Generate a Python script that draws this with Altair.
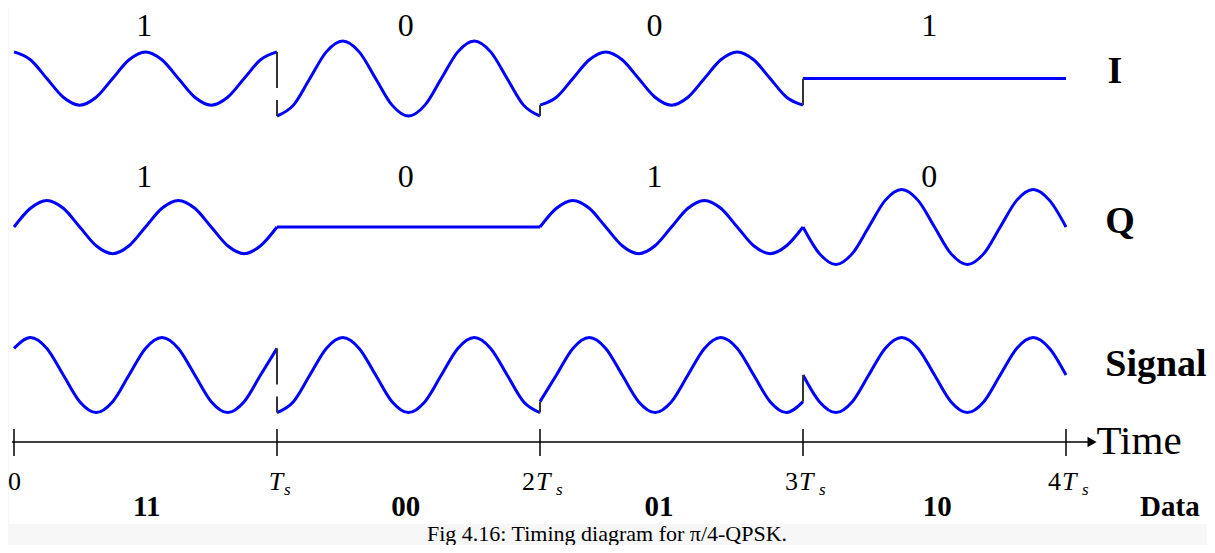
import altair as alt
import pandas as pd

# ---------------- data ----------------
# sample positions inside one symbol interval (units of Ts)
STEP = [0.0, 0.0625, 0.125, 0.1875, 0.25, 0.3125, 0.375, 0.4375, 0.5,
        0.5625, 0.625, 0.6875, 0.75, 0.8125, 0.875, 0.9375, 1.0]

# waveform samples per symbol (full amplitude = 1)
I_SEG = [
    [0.71, 0.5, 0, -0.5, -0.71, -0.5, 0, 0.5, 0.71, 0.5, 0, -0.5, -0.71, -0.5, 0, 0.5, 0.71],
    [-1, -0.71, 0, 0.71, 1, 0.71, 0, -0.71, -1, -0.71, 0, 0.71, 1, 0.71, 0, -0.71, -1],
    [-0.71, -0.5, 0, 0.5, 0.71, 0.5, 0, -0.5, -0.71, -0.5, 0, 0.5, 0.71, 0.5, 0, -0.5, -0.71],
    [0, 0, 0, 0, 0, 0, 0, 0, 0, 0, 0, 0, 0, 0, 0, 0, 0],
]
Q_SEG = [
    [0, 0.5, 0.71, 0.5, 0, -0.5, -0.71, -0.5, 0, 0.5, 0.71, 0.5, 0, -0.5, -0.71, -0.5, 0],
    [0, 0, 0, 0, 0, 0, 0, 0, 0, 0, 0, 0, 0, 0, 0, 0, 0],
    [0, 0.5, 0.71, 0.5, 0, -0.5, -0.71, -0.5, 0, 0.5, 0.71, 0.5, 0, -0.5, -0.71, -0.5, 0],
    [0, -0.71, -1, -0.71, 0, 0.71, 1, 0.71, 0, -0.71, -1, -0.71, 0, 0.71, 1, 0.71, 0],
]
S_SEG = [
    [0.71, 1, 0.71, 0, -0.71, -1, -0.71, 0, 0.71, 1, 0.71, 0, -0.71, -1, -0.71, 0, 0.71],
    [-1, -0.71, 0, 0.71, 1, 0.71, 0, -0.71, -1, -0.71, 0, 0.71, 1, 0.71, 0, -0.71, -1],
    [-0.71, 0, 0.71, 1, 0.71, 0, -0.71, -1, -0.71, 0, 0.71, 1, 0.71, 0, -0.71, -1, -0.71],
    [0, -0.71, -1, -0.71, 0, 0.71, 1, 0.71, 0, -0.71, -1, -0.71, 0, 0.71, 1, 0.71, 0],
]

I_BITS = ["1", "0", "0", "1"]
Q_BITS = ["1", "0", "1", "0"]
DATA_BITS = ["11", "00", "01", "10"]
ROW_NAMES = ["I", "Q", "Signal"]
TICKS = [0, 1, 2, 3, 4]
TICK_COEF = ["0", "", "2", "3", "4"]
CAPTION = "Fig 4.16: Timing diagram for π/4-QPSK."

# ---------------- layout (not data) ----------------
W, H = 1199, 537
X_DOM = [-0.0228, 4.5361]
Y_DOM = [-12.44, 1.88]
ROW_Y = {"I": 0.0, "Q": -3.96, "Signal": -7.907}
AXIS_Y = -9.693
SERIF = "Liberation Serif"
BLUE = "#0000ff"

waves = {"I": I_SEG, "Q": Q_SEG, "Signal": S_SEG}
rows, jumps = [], []
for name, segs in waves.items():
    for k, seg in enumerate(segs):
        for s, v in zip(STEP, seg):
            rows.append({"wave": name, "key": f"{name}{k}", "t": k + s,
                         "y": v + ROW_Y[name]})
        if k > 0 and segs[k - 1][-1] != seg[0]:
            jumps.append({"t": k, "y1": segs[k - 1][-1] + ROW_Y[name],
                          "y2": seg[0] + ROW_Y[name], "dashed": k == 1})
wave_df = pd.DataFrame(rows)
jump_df = pd.DataFrame(jumps)

xs = alt.Scale(domain=X_DOM, nice=False, zero=False)
ys = alt.Scale(domain=Y_DOM, nice=False, zero=False)
X = lambda f: alt.X(f, type="quantitative", scale=xs, axis=None)
Y = lambda f: alt.Y(f, type="quantitative", scale=ys, axis=None)

bg = alt.Chart(pd.DataFrame({"a": [0]})).mark_rect(color="white").encode(
    x=alt.value(1), x2=alt.value(W), y=alt.value(0), y2=alt.value(516))

lines = alt.Chart(wave_df).mark_line(color=BLUE, strokeWidth=3,
                                     interpolate="monotone").encode(
    x=X("t"), y=Y("y"), detail="key:N", order="t:Q")

jump_solid = alt.Chart(jump_df[~jump_df.dashed]).mark_rule(
    color="#333333", strokeWidth=2).encode(x=X("t"), y=Y("y1"), y2="y2")
jump_dash = alt.Chart(jump_df[jump_df.dashed]).mark_rule(
    color="#333333", strokeWidth=2, strokeDash=[36, 12]).encode(
    x=X("t"), y=Y("y1"), y2="y2")

# bit labels above I and Q
bit_rows = []
nudge = [-0.005, -0.01, -0.065, -0.02]
for k in range(4):
    bit_rows.append({"t": k + 0.5 + nudge[k], "y": 1.40, "txt": I_BITS[k]})
    bit_rows.append({"t": k + 0.5 + nudge[k], "y": -2.627, "txt": Q_BITS[k]})
bits = alt.Chart(pd.DataFrame(bit_rows)).mark_text(
    font=SERIF, fontSize=32, baseline="middle", align="center").encode(
    x=X("t"), y=Y("y"), text="txt:N")

row_df = pd.DataFrame({"txt": ROW_NAMES, "t": [4.186, 4.205, 4.342],
                       "y": [0.173, -3.827, -7.64]})
row_lbl = alt.Chart(row_df).mark_text(
    font=SERIF, fontSize=38, fontWeight="bold", baseline="middle",
    align="center").encode(x=X("t"), y=Y("y"), text="txt:N")

# time axis
axis_line = alt.Chart(pd.DataFrame({"a": [-0.0076], "b": [4.09], "y": [AXIS_Y]})).mark_rule(
    color="black", strokeWidth=1.5).encode(x=X("a"), x2="b", y=Y("y"))
tick_df = pd.DataFrame({"t": TICKS, "coef": TICK_COEF})
ticks = alt.Chart(tick_df).mark_rule(color="black", strokeWidth=1.5).encode(
    x=X("t"), y=alt.Y("lo:Q", scale=ys, axis=None), y2="hi:Q"
).transform_calculate(lo=str(AXIS_Y + 0.347), hi=str(AXIS_Y - 0.373))
arrow = alt.Chart(pd.DataFrame({"t": [4.099], "y": [AXIS_Y]})).mark_point(
    shape="triangle-right", filled=True, color="black", opacity=1, size=110).encode(
    x=X("t"), y=Y("y"))
time_lbl = alt.Chart(pd.DataFrame({"t": [4.116], "y": [AXIS_Y], "txt": ["Time"]})).mark_text(
    font=SERIF, fontSize=41, align="left", baseline="middle").encode(
    x=X("t"), y=Y("y"), text="txt:N")

LBL_Y = -10.76
zero_lbl = alt.Chart(tick_df[tick_df.coef == "0"]).mark_text(
    font=SERIF, fontSize=26, align="left", baseline="middle", dx=-6).encode(
    x=X("t"), y=alt.Y("yy:Q", scale=ys, axis=None), text="coef:N"
).transform_calculate(yy=str(LBL_Y))
coef_lbl = alt.Chart(tick_df[tick_df.coef.isin(["2", "3", "4"])]).mark_text(
    font=SERIF, fontSize=26, align="right", baseline="middle", dx=-5).encode(
    x=X("t"), y=alt.Y("yy:Q", scale=ys, axis=None), text="coef:N"
).transform_calculate(yy=str(LBL_Y))
t_single = alt.Chart(tick_df[tick_df.coef == ""]).mark_text(
    font=SERIF, fontSize=26, fontStyle="italic", align="center", baseline="middle",
    dx=-1, text="T").encode(
    x=X("t"), y=alt.Y("yy:Q", scale=ys, axis=None)
).transform_calculate(yy=str(LBL_Y))
s_single = alt.Chart(tick_df[tick_df.coef == ""]).mark_text(
    font=SERIF, fontSize=17, fontStyle="italic", align="left", baseline="middle",
    dx=7, dy=8, text="s").encode(
    x=X("t"), y=alt.Y("yy:Q", scale=ys, axis=None)
).transform_calculate(yy=str(LBL_Y))
t_multi = alt.Chart(tick_df[tick_df.coef.isin(["2", "3", "4"])]).mark_text(
    font=SERIF, fontSize=26, fontStyle="italic", align="left", baseline="middle",
    dx=-4, text="T").encode(
    x=X("t"), y=alt.Y("yy:Q", scale=ys, axis=None)
).transform_calculate(yy=str(LBL_Y))
s_multi = alt.Chart(tick_df[tick_df.coef.isin(["2", "3", "4"])]).mark_text(
    font=SERIF, fontSize=17, fontStyle="italic", align="left", baseline="middle",
    dx=16, dy=8, text="s").encode(
    x=X("t"), y=alt.Y("yy:Q", scale=ys, axis=None)
).transform_calculate(yy=str(LBL_Y))

data_df = pd.DataFrame({"t": [0.505, 1.49, 2.452, 3.51, 4.395],
                        "txt": DATA_BITS + ["Data"], "y": [-11.427] * 5})
data_lbl = alt.Chart(data_df).mark_text(
    font=SERIF, fontSize=29, fontWeight="bold", align="center",
    baseline="middle").encode(x=X("t"), y=Y("y"), text="txt:N")

cap = alt.Chart(pd.DataFrame({"t": [2.255], "y": [-12.333], "txt": [CAPTION]})).mark_text(
    font=SERIF, fontSize=22, align="center", baseline="alphabetic").encode(
    x=X("t"), y=Y("y"), text="txt:N")

chart = alt.layer(
    bg, lines, jump_solid, jump_dash, bits, row_lbl, axis_line, ticks, arrow,
    time_lbl, zero_lbl, coef_lbl, t_single, s_single, t_multi, s_multi,
    data_lbl, cap
).properties(
    width=W, height=H, padding=0, autosize="none", background="#f7f7f7"
).configure_view(stroke=None)

chart.save("out.html", embed_options={"renderer": "svg", "actions": False})
